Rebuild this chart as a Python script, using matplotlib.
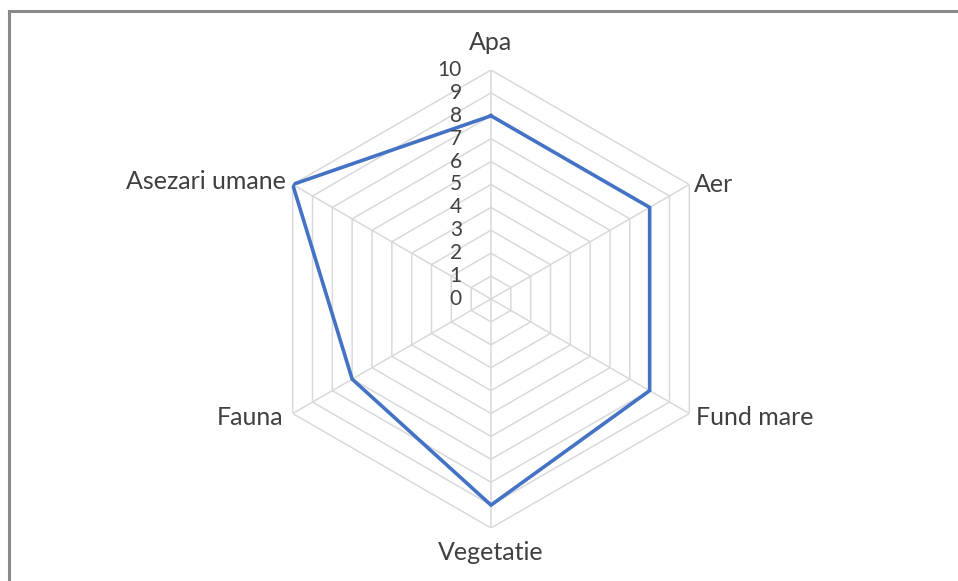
import numpy as np
import matplotlib
matplotlib.use("Agg")
import matplotlib.pyplot as plt
from matplotlib.lines import Line2D

categories = ["Apa", "Aer", "Fund mare", "Vegetatie", "Fauna", "Asezari umane"]
values = [8, 8, 8, 9, 7, 10]
rings = [1, 2, 3, 4, 5, 6, 7, 8, 9, 10]
tick_labels = ["0", "1", "2", "3", "4", "5", "6", "7", "8", "9", "10"]

W, H = 958, 581
fig = plt.figure(figsize=(W / 100, H / 100), dpi=100)
fig.patch.set_facecolor("white")

cx, cy, R = 491, 299, 229
ax = fig.add_axes([(cx - R) / W, (H - cy - R) / H, 2 * R / W, 2 * R / H], projection="polar")
ax.set_theta_zero_location("N")
ax.set_theta_direction(-1)
ax.set_ylim(0, 10)
ax.grid(False)
ax.spines["polar"].set_visible(False)
ax.set_xticks([])
ax.set_yticks([])
ax.patch.set_visible(False)

n = len(categories)
angles = np.linspace(0, 2 * np.pi, n, endpoint=False)
closed = np.concatenate([angles, angles[:1]])

grid_color = "#d9d9d9"
for r in rings:
    ax.plot(closed, [r] * (n + 1), color=grid_color, lw=1.1, zorder=1)
for a in angles:
    ax.plot([a, a], [0, rings[-1]], color=grid_color, lw=1.1, zorder=1)

vals = values + values[:1]
ax.plot(closed, vals, color="#4472c4", lw=2.6, zorder=3, solid_joinstyle="miter")

font = "Lato"
# radial tick labels
for i, t in enumerate(tick_labels):
    ax.annotate(t, xy=(0, i), xytext=(-21, 0), textcoords="offset points",
                ha="right", va="center", fontsize=15, color="#404040", family=font)

# category labels
offsets = [(0, 20, "center", "center"),
           (3, 0, "left", "center"),
           (5, -3, "left", "center"),
           (0, -18, "center", "center"),
           (-7, -3, "right", "center"),
           (-5, 2, "right", "center")]
for a, lab, (dx, dy, ha, va) in zip(angles, categories, offsets):
    ax.annotate(lab, xy=(a, rings[-1]), xytext=(dx, dy), textcoords="offset points",
                ha=ha, va=va, fontsize=18, color="#404040", family=font,
                annotation_clip=False)

# chart-area border (top and left visible)
fig.add_artist(Line2D([8.5 / W, 1], [1 - 10.5 / H, 1 - 10.5 / H], transform=fig.transFigure,
                      color="#8a8a8a", lw=2.2))
fig.add_artist(Line2D([8.5 / W, 8.5 / W], [0, 1 - 10.5 / H], transform=fig.transFigure,
                      color="#8a8a8a", lw=2.2))

fig.savefig("out.png", dpi=100, facecolor="white")
